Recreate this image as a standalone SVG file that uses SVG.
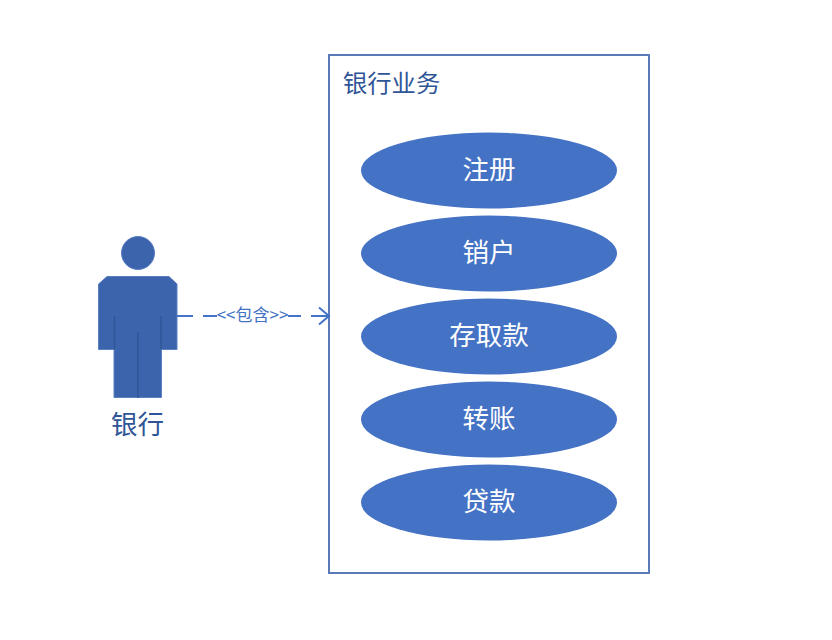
<svg xmlns="http://www.w3.org/2000/svg" width="832" height="640" viewBox="0 0 832 640">
<style>
text{font-family:"Noto Sans CJK SC","Liberation Sans",sans-serif}
.uc ellipse{fill:#4472c4}
.uc text{fill:#fff;font-size:26.500px;text-anchor:middle}
.dark{fill:#2f5597}
.fig{fill:#3b64ad;stroke:#5b80c0;stroke-width:1}
.seam{fill:none;stroke:#2f5597;stroke-width:1.5}
.conn{fill:none;stroke:#4472c4;stroke-width:2}
</style>
<rect width="832" height="640" fill="#fff"/>
<g id="system"><rect x="329" y="55" width="320" height="518" fill="#fff" stroke="#5b7bb8" stroke-width="2"/>
<text class="dark" x="343" y="91.500" font-size="24.300">银行业务</text></g>
<g id="uc1" class="uc"><ellipse cx="489" cy="170.500" rx="128" ry="38"/><text x="489" y="179">注册</text></g>
<g id="uc2" class="uc"><ellipse cx="489" cy="253.500" rx="128" ry="38"/><text x="489" y="262">销户</text></g>
<g id="uc3" class="uc"><ellipse cx="489" cy="336.500" rx="128" ry="38"/><text x="489" y="345">存取款</text></g>
<g id="uc4" class="uc"><ellipse cx="489" cy="419.500" rx="128" ry="38"/><text x="489" y="428">转账</text></g>
<g id="uc5" class="uc"><ellipse cx="489" cy="502.500" rx="128" ry="38"/><text x="489" y="511">贷款</text></g>
<g id="actor">
<circle class="fig" cx="138" cy="253" r="16.500"/>
<path class="fig" d="M107 276.500H169L177 284V349.500H161.500V397.500H114V349.500H98.500V284Z"/>
<path class="seam" d="M114.500 316V349M161 316V349M138 332V398"/>
<text class="dark" x="137.500" y="433.500" font-size="26.500" text-anchor="middle">银行</text>
</g>
<g id="connectors">
<path class="conn" d="M177 316H193M203 316H217M288 316H301M311 316H329M319 307.500L329 316L319 324.500"/>
<text x="252.500" y="320.500" font-size="17" fill="#4472c4" text-anchor="middle">&lt;&lt;包含&gt;&gt;</text>
</g>
</svg>
